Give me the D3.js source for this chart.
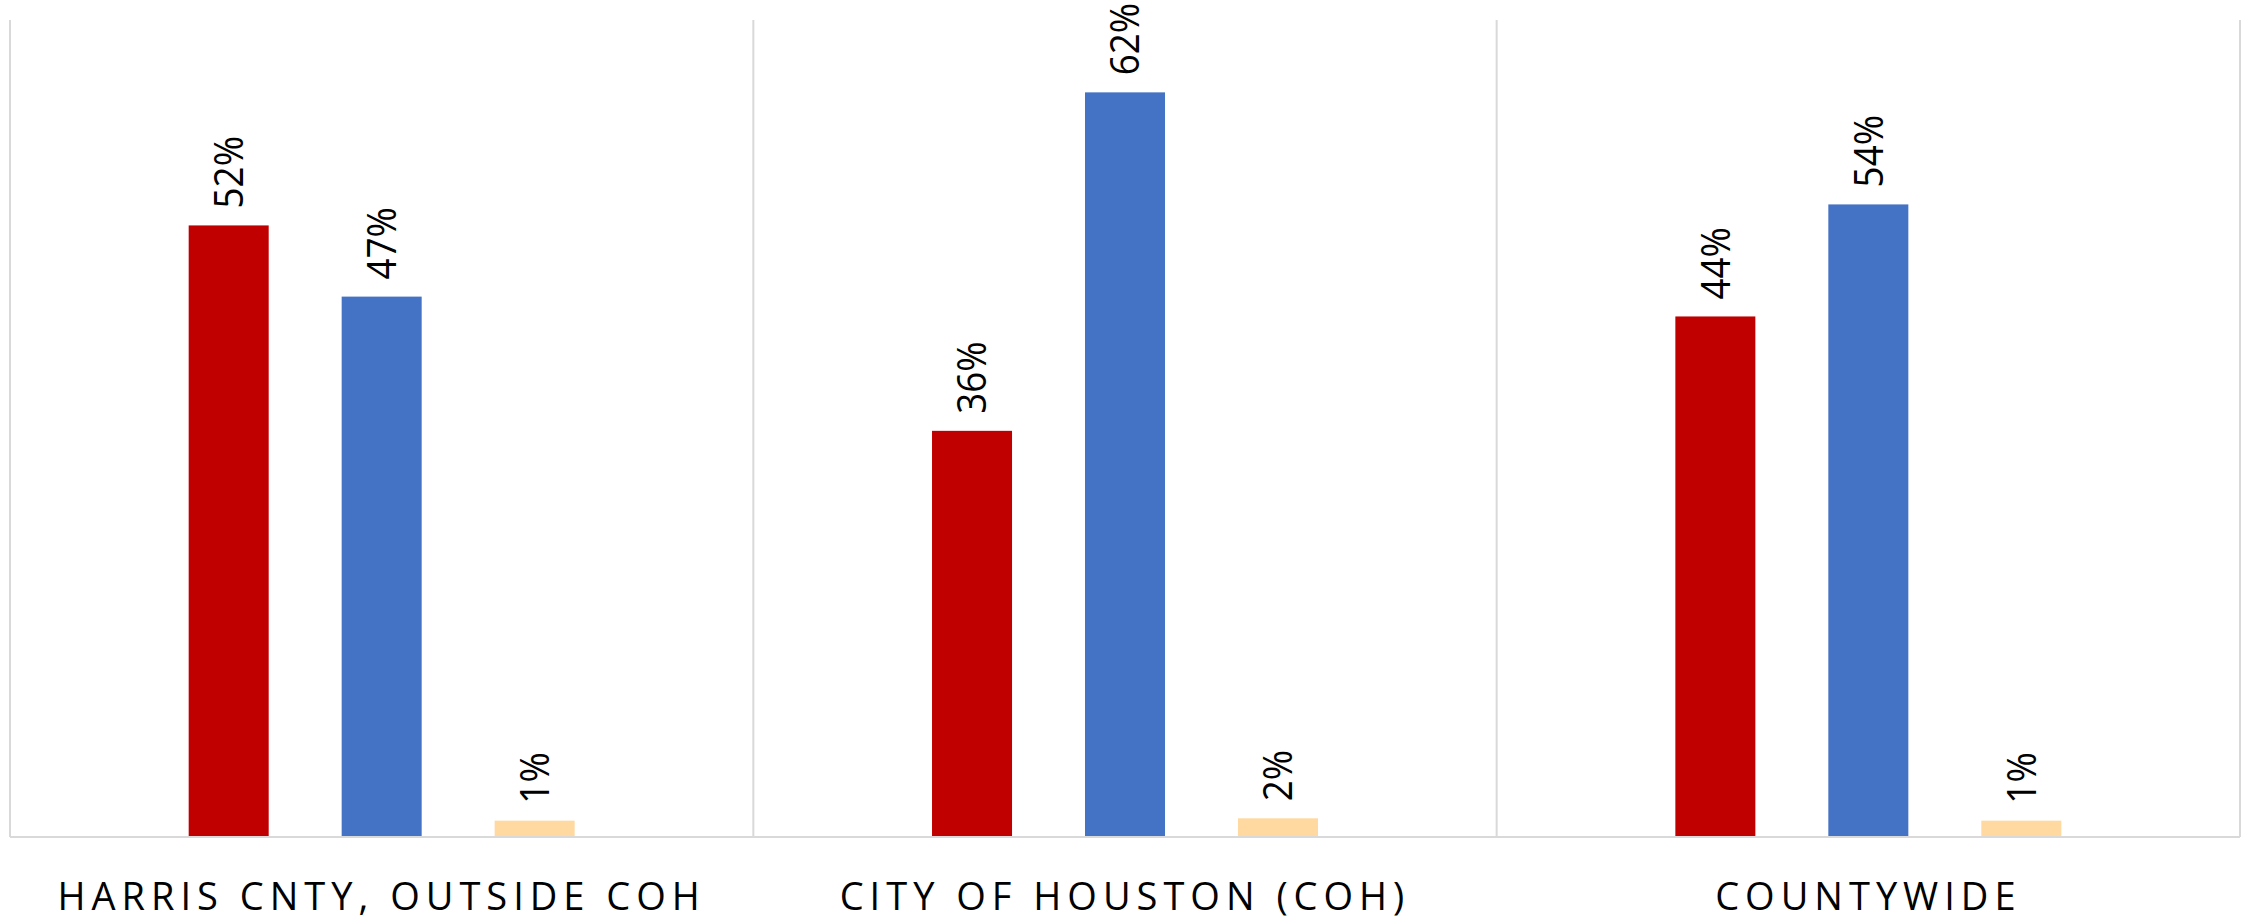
<!DOCTYPE html>
<html>
<head>
<meta charset="utf-8">
<script src="https://cdn.jsdelivr.net/npm/d3@7"></script>
<style>
  html, body { margin: 0; padding: 0; background: #ffffff; }
  svg { display: block; }
</style>
</head>
<body>
<div id="chart"></div>
<script>
// ---- data ----
const categories = ["HARRIS CNTY, OUTSIDE COH", "CITY OF HOUSTON (COH)", "COUNTYWIDE"];
const seriesNames = ["Republican", "Democratic", "Other"];
const repValues = [52.4, 34.8, 44.6];
const demValues = [46.3, 63.8, 54.2];
const othValues = [1.4, 1.6, 1.4];
const repLabels = ["52%", "36%", "44%"];
const demLabels = ["47%", "62%", "54%"];
const othLabels = ["1%", "2%", "1%"];
const yMax = 70;

const colors = ["#C00000", "#4472C4", "#FFD99F"];

// ---- layout ----
const W = 2252, H = 924;
const margin = { left: 10, right: 12, top: 20, bottom: 87 };
const plotBottom = H - margin.bottom; // 837

const svg = d3.select("#chart").append("svg")
  .attr("width", W).attr("height", H);

const x0 = d3.scaleBand()
  .domain(categories)
  .range([margin.left, W - margin.right])
  .paddingInner(0).paddingOuter(0);

const x1 = d3.scaleBand()
  .domain(seriesNames)
  .range([0, x0.bandwidth()])
  .paddingInner(0.477)
  .paddingOuter(1.168);

const y = d3.scaleLinear().domain([0, yMax]).range([plotBottom, margin.top]);

const valuesBySeries = [repValues, demValues, othValues];
const labelsBySeries = [repLabels, demLabels, othLabels];

const data = [];
categories.forEach((c, i) => {
  seriesNames.forEach((s, j) => {
    data.push({ cat: c, series: s, value: valuesBySeries[j][i], label: labelsBySeries[j][i], color: colors[j] });
  });
});

// vertical category dividers (gridlines)
const dividers = [x0.range()[0]].concat(categories.map(c => x0(c) + x0.bandwidth()));
svg.append("g").selectAll("line").data(dividers).join("line")
  .attr("x1", d => d).attr("x2", d => d)
  .attr("y1", y(yMax)).attr("y2", plotBottom)
  .attr("stroke", "#D9D9D9").attr("stroke-width", 2);

// bars
svg.append("g").selectAll("rect").data(data).join("rect")
  .attr("x", d => x0(d.cat) + x1(d.series))
  .attr("y", d => y(d.value))
  .attr("width", x1.bandwidth())
  .attr("height", d => plotBottom - y(d.value))
  .attr("fill", d => d.color);

// baseline axis
svg.append("line")
  .attr("x1", x0.range()[0]).attr("x2", x0.range()[1])
  .attr("y1", plotBottom).attr("y2", plotBottom)
  .attr("stroke", "#D9D9D9").attr("stroke-width", 2);

// value labels (rotated)
svg.append("g").selectAll("text").data(data).join("text")
  .attr("transform", d => `translate(${x0(d.cat) + x1(d.series) + x1.bandwidth() / 2},${y(d.value) - 17}) rotate(-90) scale(0.92,1)`)
  .attr("dy", "0.36em")
  .attr("text-anchor", "start")
  .attr("font-family", "'Open Sans', sans-serif")
  .attr("font-size", 40)
  .attr("fill", "#000000")
  .text(d => d.label);

// category axis labels
svg.append("g").selectAll("text").data(categories).join("text")
  .attr("x", d => x0(d) + x0.bandwidth() / 2)
  .attr("y", 910)
  .attr("text-anchor", "middle")
  .attr("font-family", "'Open Sans', sans-serif")
  .attr("font-size", 38)
  .attr("letter-spacing", "6px")
  .attr("fill", "#000000")
  .text(d => d);
</script>
</body>
</html>
